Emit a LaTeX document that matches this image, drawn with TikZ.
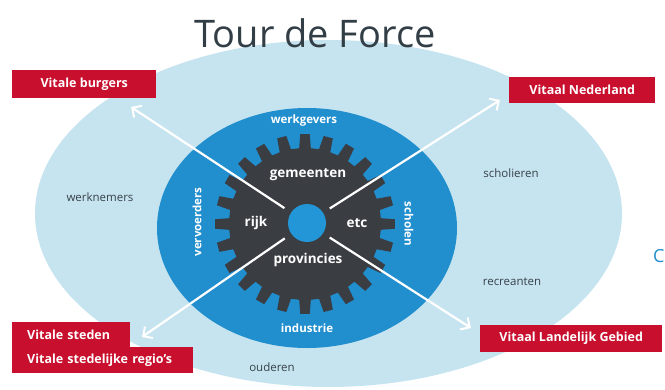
\documentclass[tikz,border=0pt]{standalone}
\usepackage{fontspec}
\setmainfont{Open Sans}
\usetikzlibrary{arrows.meta,calc}
\definecolor{lightbg}{RGB}{198,228,240}
\definecolor{midblue}{RGB}{33,142,206}
\definecolor{gearc}{RGB}{58,61,66}
\definecolor{holeblue}{RGB}{35,150,215}
\definecolor{boxred}{RGB}{200,16,46}
\definecolor{darktxt}{RGB}{55,65,72}
\definecolor{titletxt}{RGB}{50,62,70}
\begin{document}
\begin{tikzpicture}[x=1pt,y=-1pt,
  redbox/.style={fill=boxred, text=white, font=\fontsize{12.5}{14}\selectfont\bfseries, inner sep=0pt, anchor=north west},
  outer/.style={text=darktxt, font=\fontsize{11.5}{13}\selectfont},
  ring/.style={text=white, font=\fontsize{11.5}{13}\selectfont\bfseries},
  geartxt/.style={text=white, font=\fontsize{13.5}{15}\selectfont\bfseries},
  arr/.style={draw=white, line width=2.2pt, -{Straight Barb[length=7pt,width=14pt,line width=2pt]}},
]
\useasboundingbox (0,0) rectangle (665,389);
\fill[white] (0,0) rectangle (665,389);
\fill[lightbg] (328.5,213.5) ellipse [x radius=293.5pt, y radius=173.5pt];
\fill[midblue] (307,228) ellipse [x radius=150pt, y radius=120pt];
\fill[gearc, shift={(305,224)}] (-7.5:76) \foreach \i in {0,...,23}{ -- ({\i*15-4.4}:76) -- ({\i*15-3.0}:90) -- ({\i*15+3.0}:90) -- ({\i*15+4.4}:76) } -- cycle;
\coordinate (c) at (307,223);
\fill[holeblue] (c) circle [radius=19pt];

\node[text=titletxt, font=\fontsize{38}{40}\selectfont, anchor=base] (title) at (315,47) {Tour de Force};

\node[ring] (werkgevers) at (304,121) {werkgevers};
\node[ring] (industrie) at (307,328) {industrie};
\node[ring, rotate=90] (vervoerders) at (197,222) {vervoerders};
\node[ring, rotate=-90] (scholen) at (409,224) {scholen};

\node[geartxt] (gemeenten) at (308,175) {gemeenten};
\node[geartxt] (rijk) at (256,223) {rijk};
\node[geartxt] (etc) at (357,223) {etc};
\node[geartxt] (provincies) at (308,260) {provincies};

\node[outer] (werknemers) at (100,197) {werknemers};
\node[outer] (scholieren) at (511,173) {scholieren};
\node[outer] (recreanten) at (512,282) {recreanten};
\node[outer] (ouderen) at (272,367) {ouderen};

\node[redbox, minimum width=144pt, minimum height=28pt] (burgers) at (12,70) {Vitale burgers};
\node[redbox, minimum width=146pt, minimum height=26pt] (nederland) at (509,77) {Vitaal Nederland};
\node[redbox, minimum width=182pt, minimum height=27pt] (landelijk) at (480,325) {Vitaal Landelijk Gebied};
\node[redbox, inner xsep=15pt, text width=88pt, minimum height=25pt, align=left] (steden) at (12,322) {Vitale steden};
\node[redbox, inner xsep=15pt, text width=151pt, minimum height=26pt, align=left] (regios) at (12,347) {Vitale stedelijke regio's};

\coordinate (tNW) at (131,107);
\coordinate (tNE) at (500,100);
\coordinate (tSW) at (142,337);
\coordinate (tSE) at (471,328);
\draw[arr] ($(c)!27pt!(tNW)$) -- (tNW);
\draw[arr] ($(c)!27pt!(tNE)$) -- (tNE);
\draw[arr] ($(c)!27pt!(tSW)$) -- (tSW);
\draw[arr] ($(c)!27pt!(tSE)$) -- (tSE);

\node[text=midblue, font=\fontsize{18}{20}\selectfont, anchor=west, inner sep=0pt] (frag) at (653,256) {C};
\end{tikzpicture}
\end{document}
